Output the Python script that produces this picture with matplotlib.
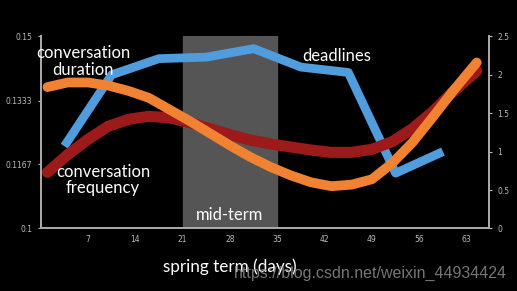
import numpy as np
import matplotlib
matplotlib.use("Agg")
import matplotlib.pyplot as plt

# weekly deadline load (right axis)
dl_days = [3.5, 10.5, 17.5, 24.5, 31.5, 38.5, 45.5, 52.5, 59.5]
dl_vals = [1.07, 2.0, 2.21, 2.23, 2.34, 2.1, 2.03, 0.72, 1.0]

# fitted trends (right axis units)
fit_days = [1, 4, 7, 10, 13, 16, 19, 22, 25, 28, 31, 34, 37, 40, 43, 46, 49, 52, 55, 58, 61, 64.5]
duration = [1.84, 1.90, 1.90, 1.86, 1.79, 1.70, 1.55, 1.40, 1.24, 1.08, 0.93, 0.80,
            0.69, 0.60, 0.55, 0.57, 0.64, 0.85, 1.12, 1.45, 1.79, 2.16]
frequency = [0.73, 0.96, 1.16, 1.33, 1.42, 1.46, 1.44, 1.38, 1.30, 1.22, 1.15, 1.10,
             1.06, 1.02, 0.99, 0.99, 1.03, 1.13, 1.30, 1.52, 1.78, 2.05]

xticks = [7, 14, 21, 28, 35, 42, 49, 56, 63]
left_ticks = [0.1, 0.1167, 0.1333, 0.15]
right_ticks = [0, 0.5, 1, 1.5, 2, 2.5]
midterm = (21, 35)

fig = plt.figure(figsize=(5.17, 2.91), dpi=100, facecolor="black")
ax = fig.add_axes([0.0787, 0.215, 0.867, 0.66])
ax.set_facecolor("black")
ax2 = ax.twinx()

tick_col = "#bbbbbb"
spine_col = "#aaaaaa"

ax.set_xlim(0, 66.3)
ax.set_ylim(0.1, 0.15)
ax.set_xticks(xticks)
ax.set_xticklabels([str(t) for t in xticks])
ax.set_yticks(left_ticks)
ax.set_yticklabels(["0.1", "0.1167", "0.1333", "0.15"])
ax2.set_ylim(0, 2.5)
ax2.set_yticks(right_ticks)
ax2.set_yticklabels(["0", "0.5", "1", "1.5", "2", "2.5"])

for a in (ax, ax2):
    a.tick_params(colors=tick_col, labelsize=5.5, length=2, width=0.8, pad=4)
    for s in a.spines.values():
        s.set_color(spine_col)
        s.set_linewidth(1.3)
    a.spines["top"].set_visible(False)
ax.tick_params(axis="x", length=0, pad=5)

ax.axvspan(midterm[0], midterm[1], color="#555555", zorder=0)

ax2.plot(dl_days, dl_vals, color="#509ddd", lw=6.3, solid_capstyle="butt", zorder=2)
ax2.plot(fit_days, frequency, color="#9c1a1a", lw=8, solid_capstyle="round", zorder=3)
ax2.plot(fit_days, duration, color="#f08232", lw=7, solid_capstyle="round", zorder=4)

lab = dict(color="white", fontsize=12, family="Lato", ha="center", va="center")
ax2.text(6.3, 2.17, "conversation\nduration", linespacing=1.05, **lab)
ax2.text(9.2, 0.63, "conversation\nfrequency", linespacing=1.05, **lab)
ax2.text(43.8, 2.24, "deadlines", **lab)
ax2.text(28, 0.18, "mid-term", **lab)

fig.text(0.445, 0.082, "spring term (days)", color="white", fontsize=12.3,
         family="Lato", ha="center", va="center")
fig.text(0.717, 0.062, "https://blog.csdn.net/weixin_44934424", color="#8a8a8a",
         alpha=0.85, fontsize=11.5, family="Liberation Sans", ha="center", va="center")

fig.savefig("out.png", dpi=100, facecolor="black")
